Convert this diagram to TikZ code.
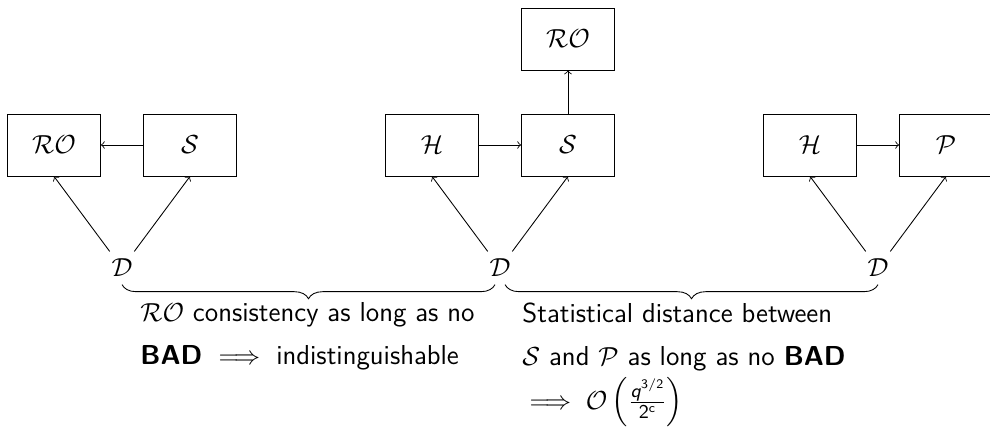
\documentclass[tikz,border=0pt]{standalone}
\usepackage{amsmath,amssymb}
\usetikzlibrary{decorations.pathreplacing}

\tikzset{blk/.style={draw, minimum width=1.5cm, minimum height=1cm, inner sep=0pt},
	brc/.style={decorate, decoration={brace, mirror, amplitude=6.5pt}},
	txt/.style={anchor=north west, align=left, inner sep=0pt}}

\begin{document}
\begin{tikzpicture}[x=0.01616cm,y=-0.01616cm,font=\sffamily\fontsize{12.6}{20}\selectfont]
\useasboundingbox (0,0) rectangle (990,429);
% left
\node[blk] (ROa) at (54,145) {$\mathcal{RO}$};
\node[blk] (Sa) at (190,145) {$\mathcal{S}$};
\node (Da) at (122,268) {$\mathcal{D}$};
\draw[->] (Sa) -- (ROa);
\draw[->] (Da) -- (ROa.south);
\draw[->] (Da) -- (Sa.south);
% middle
\node[blk] (Hb) at (432,145) {$\mathcal{H}$};
\node[blk] (Sb) at (568,145) {$\mathcal{S}$};
\node[blk] (ROb) at (568,39) {$\mathcal{RO}$};
\node (Db) at (500,268) {$\mathcal{D}$};
\draw[->] (Hb) -- (Sb);
\draw[->] (Sb) -- (ROb);
\draw[->] (Db) -- (Hb.south);
\draw[->] (Db) -- (Sb.south);
% right
\node[blk] (Hc) at (810,145) {$\mathcal{H}$};
\node[blk] (Pc) at (946,145) {$\mathcal{P}$};
\node (Dc) at (878,268) {$\mathcal{D}$};
\draw[->] (Hc) -- (Pc);
\draw[->] (Dc) -- (Hc.south);
\draw[->] (Dc) -- (Pc.south);
% braces
\draw[brc] (Da.south) -- ([xshift=-2.3pt]Db.south);
\draw[brc] ([xshift=2.3pt]Db.south) -- (Dc.south);
\node[txt] (La) at (140,302) {$\mathcal{RO}$ consistency as long as no\\
	\textbf{BAD} $\implies$ indistinguishable};
\node[txt] (Lb) at (522,302) {Statistical distance between\\
	$\mathcal{S}$ and $\mathcal{P}$ as long as no \textbf{BAD}\\
	$\implies \mathcal{O}\left(\frac{\textsf{\textit{q}}^{\mathsf{3/2}}}{\mathsf{2}^{\mathsf{c}}}\right)$};
\end{tikzpicture}
\end{document}
